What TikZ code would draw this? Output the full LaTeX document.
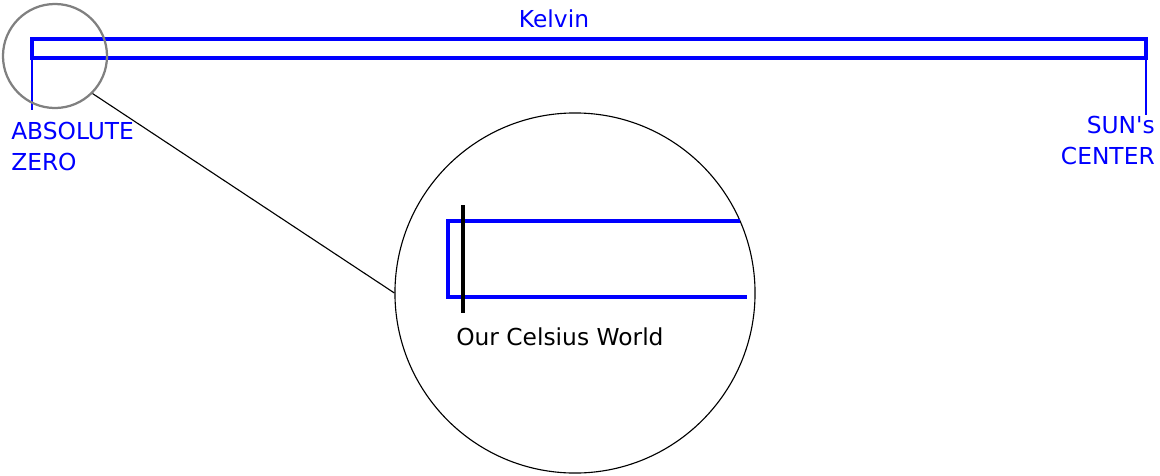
\documentclass[tikz,border=0pt]{standalone}
\usepackage{fontspec}
\setmainfont{DejaVu Sans}
\usepackage{tikz}
\definecolor{kelvinblue}{HTML}{0000FF}
\definecolor{ringgray}{HTML}{808080}
\tikzset{
    barline/.style={kelvinblue, line width=3.4pt},
    tickline/.style={kelvinblue, line width=0.8pt},
    lbl/.style={inner sep=0pt, font=\fontsize{16.6}{22}\selectfont},
}

\begin{document}
\begin{tikzpicture}[x=0.025cm, y=-0.025cm]
    \useasboundingbox (0,0) rectangle (1160,475);
    % the whole Kelvin range
    \draw [barline] (32,39) rectangle (1146,58);
    \coordinate (zerotop) at (32,58);
    \coordinate (zerofoot) at (32,110);
    \coordinate (suntop) at (1146,58);
    \coordinate (sunfoot) at (1146,115);
    \draw [tickline] (zerotop) -- (zerofoot);
    \draw [tickline] (suntop) -- (sunfoot);
    \node [lbl, kelvinblue, anchor=base] (kelvin) at (554,27) {Kelvin};
    \node [lbl, kelvinblue, anchor=north west, align=left] (abszero) at (11,122) {ABSOLUTE\\ZERO};
    \node [lbl, kelvinblue, anchor=north east, align=right] (suncenter) at (1155,116) {SUN\textquotesingle s\\CENTER};
    % magnifier
    \node [circle, draw=ringgray, line width=1.6pt, inner sep=0pt, minimum size=2.6cm] (lens) at (55,56) {};
    \node [circle, draw=black, line width=0.8pt, inner sep=0pt, minimum size=9cm] (view) at (575,293) {};
    \draw [black, line width=0.8pt] (lens.-45) -- (view.west);
    % close up of the lower end
    \draw [barline] (740,221) -- (448,221) -- (448,297) -- (747,297);
    \coordinate (celsiustop) at (463,205);
    \coordinate (celsiusfoot) at (463,313);
    \draw [black, line width=2.2pt] (celsiustop) -- (celsiusfoot);
    \node [lbl, black, anchor=base west] (celsius) at (456,345) {Our Celsius World};
\end{tikzpicture}
\end{document}
